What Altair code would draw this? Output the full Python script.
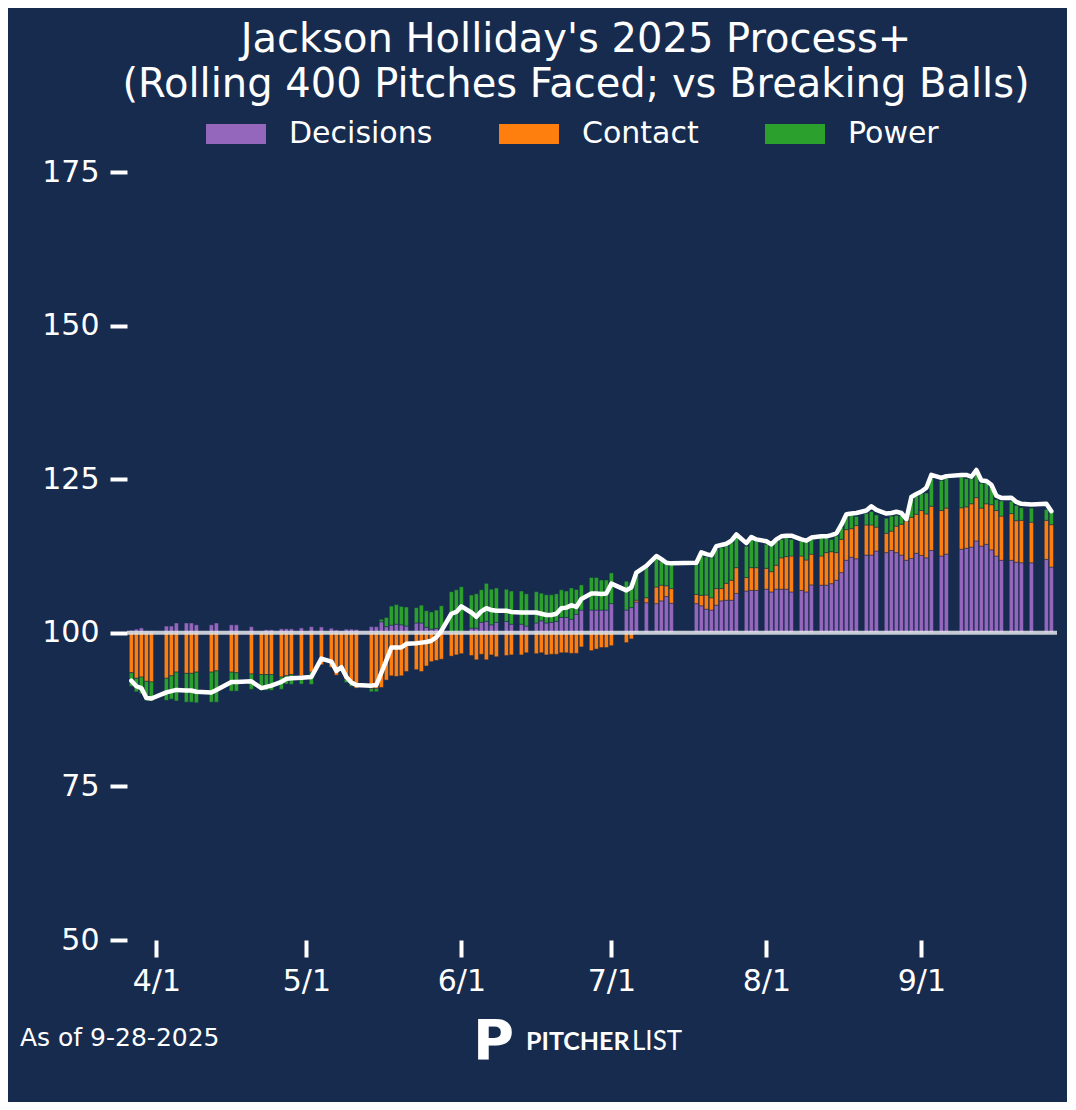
import altair as alt
import pandas as pd

BG = "#172b4f"

dates = [
    "2025-03-27", "2025-03-28", "2025-03-29", "2025-03-30", "2025-03-31",
    "2025-04-03", "2025-04-04", "2025-04-05", "2025-04-07", "2025-04-08", "2025-04-09",
    "2025-04-12", "2025-04-13", "2025-04-16", "2025-04-17", "2025-04-20",
    "2025-04-22", "2025-04-23", "2025-04-24", "2025-04-26", "2025-04-27", "2025-04-28",
    "2025-04-30", "2025-05-02", "2025-05-04", "2025-05-06", "2025-05-07", "2025-05-08",
    "2025-05-09", "2025-05-10", "2025-05-11", "2025-05-14", "2025-05-15", "2025-05-16",
    "2025-05-17", "2025-05-18", "2025-05-19", "2025-05-20", "2025-05-21", "2025-05-23",
    "2025-05-24", "2025-05-25", "2025-05-26", "2025-05-27", "2025-05-28", "2025-05-30",
    "2025-05-31", "2025-06-01", "2025-06-03", "2025-06-04", "2025-06-05", "2025-06-06",
    "2025-06-07", "2025-06-08", "2025-06-10", "2025-06-11", "2025-06-13", "2025-06-14",
    "2025-06-16", "2025-06-17", "2025-06-18", "2025-06-19", "2025-06-20", "2025-06-21",
    "2025-06-22", "2025-06-23", "2025-06-24", "2025-06-25", "2025-06-27", "2025-06-28",
    "2025-06-29", "2025-06-30", "2025-07-01", "2025-07-04", "2025-07-05", "2025-07-06",
    "2025-07-08", "2025-07-10", "2025-07-11", "2025-07-12", "2025-07-13", "2025-07-18",
    "2025-07-19", "2025-07-20", "2025-07-21", "2025-07-22", "2025-07-23", "2025-07-24",
    "2025-07-25", "2025-07-26", "2025-07-28", "2025-07-29", "2025-07-30", "2025-08-01",
    "2025-08-02", "2025-08-03", "2025-08-04", "2025-08-05", "2025-08-06", "2025-08-08",
    "2025-08-09", "2025-08-10", "2025-08-12", "2025-08-13", "2025-08-14", "2025-08-15",
    "2025-08-16", "2025-08-17", "2025-08-18", "2025-08-19", "2025-08-21", "2025-08-22",
    "2025-08-23", "2025-08-25", "2025-08-26", "2025-08-27", "2025-08-28", "2025-08-29",
    "2025-08-30", "2025-08-31", "2025-09-01", "2025-09-02", "2025-09-03", "2025-09-05",
    "2025-09-06", "2025-09-09", "2025-09-10", "2025-09-11", "2025-09-12", "2025-09-13",
    "2025-09-14", "2025-09-15", "2025-09-16", "2025-09-17", "2025-09-19", "2025-09-20",
    "2025-09-21", "2025-09-23", "2025-09-26", "2025-09-27",
]

decisions = [
    0.4, 0.6, 0.8, 0.3, 0.3,
    1.1, 1.1, 1.6, 1.6, 1.6, 1.3,
    1.3, 1.6, 1.3, 1.3, 1.0,
    0.15, 0.5, 0.5, 0.65, 0.65, 0.65,
    0.8, 1.0, 1.0, 0.8, 0.5, 0.3,
    0.6, 0.6, 0.6, 1.0, 1.0, 1.8,
    1.0, 1.25, 1.4, 1.3, 1.1, 1.6,
    1.6, 0.9, 0.6, 0.7, 0.3, 0.1,
    0.1, 0.2, 0.75, 0.75, 1.7, 1.85,
    1.3, 1.7, 1.85, 1.4, 1.4, 1.1,
    1.6, 1.95, 1.6, 1.7, 1.85, 2.5,
    2.5, 2.2, 3.0, 3.7, 3.7, 3.7,
    3.7, 3.7, 4.75, 3.7, 4.1, 5.0,
    4.9, 4.75, 5.2, 5.9, 4.8, 4.75,
    4.4, 3.85, 3.7, 4.5, 5.2, 5.3,
    5.3, 6.4, 6.8, 6.9, 6.9, 7.1,
    6.65, 7.1, 7.1, 7.1, 6.65, 6.9,
    6.65, 7.8, 7.75, 7.75, 8.0, 8.55,
    9.8, 11.8, 12.3, 12.05, 12.65, 12.65,
    13.3, 13.05, 13.4, 13.05, 12.65, 11.8,
    12.1, 12.95, 12.6, 12.2, 13.4, 12.5,
    12.8, 13.6, 13.75, 13.95, 14.95, 14.1,
    14.4, 13.5, 12.5, 11.8, 11.8, 11.5,
    11.4, 11.4, 11.95, 10.7,
]

contact = [
    -6.5, -7.4, -7.2, -7.9, -8.0,
    -7.4, -7.0, -6.4, -6.6, -6.6, -6.4,
    -6.4, -6.2, -6.4, -6.5, -6.7,
    -6.8, -6.8, -6.8, -7.2, -7.0, -6.8,
    -7.0, -6.4, -5.2, -5.6, -6.9, -5.8,
    -7.6, -8.3, -9.0, -9.1, -9.1, -8.9,
    -7.7, -7.0, -7.1, -7.0, -6.3, -6.0,
    -6.3, -5.4, -4.7, -4.5, -4.3, -3.8,
    -3.6, -3.4, -3.7, -4.4, -3.5, -4.4,
    -3.6, -3.9, -3.7, -3.6, -3.6, -3.25,
    -3.4, -3.25, -3.6, -3.5, -3.5, -3.25,
    -3.25, -3.35, -3.35, -2.3, -2.9, -2.65,
    -2.4, -2.4, -2.1, -1.6, -1.0, 0.3,
    0.8, 2.7, 2.55, 1.75, 2.4, 1.5,
    1.7, 2.3, 2.0, 2.7, 2.0, 2.75,
    3.25, 4.2, 2.2, 3.7, 3.7, 3.4,
    3.3, 3.9, 5.1, 5.3, 5.85, 5.6,
    5.2, 5.0, 4.75, 5.3, 5.2, 4.5,
    5.4, 5.0, 4.65, 5.4, 4.9, 4.9,
    3.9, 3.15, 3.15, 4.3, 5.0, 6.4,
    6.7, 6.35, 7.3, 7.15, 7.2, 7.4,
    7.5, 6.75, 6.75, 7.05, 7.05, 6.2,
    6.6, 7.35, 7.4, 7.2, 7.6, 6.75,
    6.9, 6.6, 6.35, 6.9,
]

power = [
    -2.2, -2.2, -2.7, -3.1, -3.1,
    -3.6, -3.8, -4.7, -4.7, -4.7, -5.0,
    -4.9, -5.1, -3.1, -3.0, -2.5,
    -2.4, -2.55, -2.55, -2.0, -1.35, -1.6,
    -1.35, -2.0, 0.0, 0.0, 0.0, 0.0,
    -0.5, -0.4, 0.0, -0.5, -0.5, 0.4,
    1.5, 3.1, 3.2, 3.0, 3.1, 2.5,
    2.9, 2.7, 2.8, 3.0, 4.1, 6.6,
    6.9, 7.3, 5.4, 5.6, 5.3, 6.2,
    5.8, 5.6, 5.25, 5.4, 5.4, 5.25,
    5.1, 4.5, 4.6, 4.5, 4.5, 4.5,
    4.3, 5.1, 4.05, 4.1, 5.3, 5.3,
    4.9, 4.9, 5.0, 4.7, 4.05, 4.5,
    4.9, 4.7, 3.85, 3.8, 3.9, 5.0,
    6.4, 6.2, 6.5, 6.4, 6.65, 6.1,
    6.1, 5.15, 5.1, 4.7, 4.3, 3.9,
    4.3, 3.95, 3.0, 3.1, 2.7, 2.4,
    3.1, 2.4, 3.0, 2.4, 2.0, 2.7,
    1.9, 2.4, 2.3, 1.5, 1.9, 2.2,
    2.0, 2.45, 2.45, 1.75, 1.5, 0.65,
    2.9, 3.0, 2.7, 3.4, 4.5, 4.9,
    4.9, 5.0, 4.6, 4.1, 4.05, 4.05,
    3.4, 3.0, 1.8, 2.45, 2.0, 2.5,
    2.05, 2.3, 1.8, 2.15,
]

process_plus = [
    92.2, 91.3, 91.0, 89.4, 89.3,
    90.3, 90.5, 90.7, 90.6, 90.6, 90.4,
    90.3, 90.7, 92.0, 92.0, 92.1,
    91.0, 91.2, 91.4, 92.0, 92.5, 92.6,
    92.7, 92.8, 95.8, 95.3, 93.8, 94.4,
    92.8, 91.9, 91.5, 91.4, 91.5, 93.5,
    95.5, 97.6, 97.6, 97.6, 98.2, 98.3,
    98.4, 98.5, 98.7, 99.3, 100.3, 103.1,
    103.4, 104.3, 103.3, 102.6, 103.5, 104.0,
    103.7, 103.6, 103.6, 103.4, 103.3, 103.3,
    103.3, 103.1, 102.9, 102.9, 103.1, 104.0,
    104.1, 104.5, 104.2, 105.5, 106.4, 106.4,
    106.3, 106.4, 108.0, 106.9, 107.4, 109.8,
    110.9, 112.5, 112.0, 111.4, 111.3, 111.4,
    113.1, 112.8, 112.6, 114.1, 114.3, 114.5,
    115.0, 116.0, 114.6, 115.6, 115.2, 114.9,
    114.4, 115.2, 115.7, 115.8, 115.8, 115.2,
    115.0, 115.5, 115.7, 115.7, 115.9, 116.2,
    117.6, 119.3, 119.4, 119.5, 119.9, 120.6,
    120.0, 119.4, 119.5, 119.7, 119.5, 118.5,
    122.1, 122.6, 123.0, 123.6, 125.7, 125.2,
    125.5, 125.7, 125.7, 125.4, 126.5, 124.8,
    124.7, 124.1, 122.3, 121.95, 122.0, 121.3,
    121.0, 120.9, 121.0, 119.8,
]

components = ["Decisions", "Contact", "Power"]
colors = ["#9467bd", "#ff7f0e", "#2ca02c"]
baseline = [100]
y_ticks = [50, 75, 100, 125, 150, 175]
x_tick_dates = [(4, 1), (5, 1), (6, 1), (7, 1), (8, 1), (9, 1)]

title_lines = ["Jackson Holliday's 2025 Process+",
               "(Rolling 400 Pitches Faced; vs Breaking Balls)"]
footer = "As of 9-28-2025"

df = pd.DataFrame({
    "date": dates,
    "Decisions": decisions,
    "Contact": contact,
    "Power": power,
    "process": process_plus,
})

FONT = "DejaVu Sans"

x_scale = alt.Scale(
    type="utc",
    padding=0,
    domain=[alt.DateTime(year=2025, month=3, date=26, hours=3, utc=True),
            alt.DateTime(year=2025, month=9, date=28, hours=3, utc=True)],
)
x_axis = alt.Axis(
    values=[alt.DateTime(year=2025, month=m, date=d, utc=True) for m, d in x_tick_dates],
    labelExpr="utcFormat(datum.value, '%-m/%-d')",
    labelFontSize=30, labelColor="white", labelFont=FONT,
    tickColor="white", tickSize=17, tickWidth=4, labelPadding=9,
    domain=False, grid=False, title=None, labelFlush=False, labelOverlap=False,
)
y_scale = alt.Scale(domain=[50, 175])
y_axis = alt.Axis(
    values=y_ticks, labelFontSize=30, labelColor="white", labelFont=FONT,
    tickColor="white", tickSize=17, tickWidth=4, labelPadding=11,
    domain=False, grid=False, title=None,
)
X = alt.X("date:T", scale=x_scale, axis=x_axis)

legend = alt.Legend(
    title=None, orient="none", legendX=79, legendY=-68, direction="horizontal",
    symbolType="M-1,-0.3333L1,-0.3333L1,0.3333L-1,0.3333Z", symbolSize=3600,
    symbolStrokeWidth=0, symbolOpacity=1,
    labelFontSize=30, labelColor="white", labelFont=FONT, labelOffset=23,
    columnPadding=66, padding=0, labelLimit=400,
)

bars = alt.Chart(df).transform_fold(
    components, as_=["component", "value"]
).transform_calculate(
    order="indexof(['Decisions', 'Contact', 'Power'], datum.component)"
).transform_stack(
    stack="value", groupby=["date"], sort=[alt.SortField("order", order="ascending")],
    as_=["v0", "v1"]
).transform_calculate(
    y0="100 + datum.v0", y1="100 + datum.v1"
).mark_bar(size=4.2, stroke=BG, strokeWidth=0.5).encode(
    x=X,
    y=alt.Y("y1:Q", scale=y_scale, axis=y_axis),
    y2="y0:Q",
    color=alt.Color("component:N", scale=alt.Scale(domain=components, range=colors),
                    legend=legend),
)

rule = alt.Chart(pd.DataFrame({"ref": baseline})).mark_rule(
    color="#e4e7ec", strokeWidth=4, opacity=0.85
).encode(y=alt.Y("ref:Q", scale=y_scale, axis=y_axis))

line = alt.Chart(df).mark_line(
    color="white", strokeWidth=4.5, strokeJoin="round", strokeCap="round"
).encode(x=X, y=alt.Y("process:Q", scale=y_scale, axis=y_axis))


def label(text, x, y, size, align="center", font=FONT, weight="normal"):
    return alt.Chart(pd.DataFrame({"t": [text]})).mark_text(
        align=align, baseline="alphabetic", fontSize=size, font=font,
        fontWeight=weight, color="white"
    ).encode(text="t:N", x=alt.value(x), y=alt.value(y))


texts = [
    label(title_lines[0], 449, -120.5, 40),
    label(title_lines[1], 449, -75, 40),
    label(footer, -107, 874, 25, align="left"),
    label("P", 346, 887, 56, align="left", weight="bold"),
    label("PITCHER", 399, 877.5, 25, align="left", font="Lato", weight="bold"),
    label("LIST", 505, 877.5, 26, align="left", font="Lato"),
]

chart = alt.layer(bars, rule, line, *texts).properties(
    width=930, height=768, background=BG,
    padding={"left": 119, "top": 164, "right": 10, "bottom": 162},
    autosize=alt.AutoSizeParams(type="none"),
).configure(font=FONT).configure_view(strokeWidth=0)

chart.save("out.html", embed_options={"renderer": "svg", "actions": False})
